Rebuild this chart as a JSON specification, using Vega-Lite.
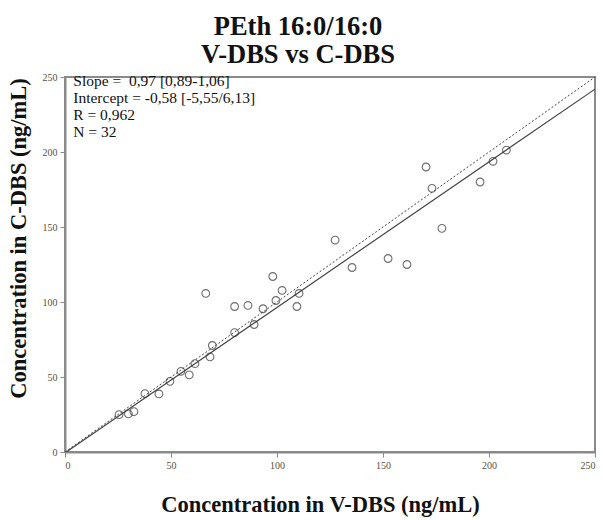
{
  "$schema": "https://vega.github.io/schema/vega-lite/v6.json",
  "autosize": {"type": "none"},
  "width": 530,
  "height": 375,
  "padding": {"left": 65, "top": 77, "right": 8, "bottom": 68},
  "background": "white",
  "config": {
    "view": {"stroke": "#8a8a8a", "strokeWidth": 2},
    "font": "Liberation Serif"
  },
  "title": {
    "text": ["PEth 16:0/16:0", "V-DBS vs C-DBS"],
    "font": "Liberation Serif",
    "fontSize": 26.5,
    "fontWeight": "bold",
    "color": "#111",
    "anchor": "middle",
    "frame": "group",
    "lineHeight": 28,
    "offset": 4,
    "dx": -32
  },
  "datasets": {
    "points": [
      {"v": 25.5, "c": 24.9}, {"v": 29.9, "c": 25.4}, {"v": 32.5, "c": 26.9},
      {"v": 37.7, "c": 38.9}, {"v": 44.3, "c": 38.7}, {"v": 49.5, "c": 47.1},
      {"v": 54.7, "c": 53.8}, {"v": 58.6, "c": 51.4}, {"v": 61.3, "c": 58.9},
      {"v": 68.4, "c": 63.4}, {"v": 69.5, "c": 71.0}, {"v": 66.4, "c": 105.7},
      {"v": 80.0, "c": 79.6}, {"v": 80.0, "c": 97.0}, {"v": 86.3, "c": 97.7},
      {"v": 89.2, "c": 85.0}, {"v": 93.4, "c": 95.5}, {"v": 98.0, "c": 117.0},
      {"v": 99.5, "c": 101.0}, {"v": 102.4, "c": 107.7}, {"v": 110.4, "c": 105.7},
      {"v": 109.4, "c": 97.0}, {"v": 127.4, "c": 141.3}, {"v": 135.4, "c": 123.0},
      {"v": 152.4, "c": 129.0}, {"v": 161.3, "c": 125.0}, {"v": 170.3, "c": 190.0},
      {"v": 173.1, "c": 175.8}, {"v": 177.8, "c": 149.1}, {"v": 195.8, "c": 180.0},
      {"v": 201.9, "c": 193.8}, {"v": 208.2, "c": 201.3}
    ],
    "fit": [
      {"v": 0, "c": -0.58}, {"v": 250, "c": 241.92}
    ],
    "identity": [
      {"v": 0, "c": 0}, {"v": 250, "c": 250}
    ],
    "stats": [
      {"v": 3.9, "c": 244.1, "label": "Slope = \u00a00,97 [0,89-1,06]"},
      {"v": 3.9, "c": 233.0, "label": "Intercept = -0,58 [-5,55/6,13]"},
      {"v": 3.9, "c": 221.6, "label": "R = 0,962"},
      {"v": 3.9, "c": 210.3, "label": "N = 32"}
    ]
  },
  "encoding": {
    "x": {
      "field": "v", "type": "quantitative",
      "scale": {"domain": [0, 250], "nice": false, "zero": false},
      "axis": {
        "title": "Concentration in V-DBS (ng/mL)",
        "values": [0, 50, 100, 150, 200, 250],
        "grid": false,
        "domainColor": "#8a8a8a", "domainWidth": 2,
        "tickColor": "#8a8a8a", "tickSize": 5, "tickWidth": 1,
        "labelFont": "Liberation Serif", "labelFontSize": 10, "labelColor": "#5a5040",
        "labelPadding": 3,
        "titleFont": "Liberation Serif", "titleFontSize": 22.5, "titleFontWeight": "bold",
        "titleColor": "#111", "titlePadding": 23, "titleX": 255
      }
    },
    "y": {
      "field": "c", "type": "quantitative",
      "scale": {"domain": [0, 250], "nice": false, "zero": false},
      "axis": {
        "title": "Concentration in C-DBS (ng/mL)",
        "values": [0, 50, 100, 150, 200, 250],
        "grid": false,
        "domainColor": "#8a8a8a", "domainWidth": 2,
        "tickColor": "#8a8a8a", "tickSize": 5, "tickWidth": 1,
        "labelFont": "Liberation Serif", "labelFontSize": 10, "labelColor": "#5a5040",
        "labelPadding": 3,
        "titleFont": "Liberation Serif", "titleFontSize": 22.5, "titleFontWeight": "bold",
        "titleColor": "#111", "titlePadding": 12, "titleY": 161
      }
    }
  },
  "layer": [
    {
      "data": {"name": "identity"},
      "mark": {"type": "line", "color": "#444", "strokeWidth": 1, "strokeDash": [2, 2], "clip": true}
    },
    {
      "data": {"name": "fit"},
      "mark": {"type": "line", "color": "#444", "strokeWidth": 1.2, "clip": true}
    },
    {
      "data": {"name": "points"},
      "mark": {"type": "point", "shape": "circle", "filled": false, "stroke": "#333", "strokeWidth": 1.1, "size": 60}
    },
    {
      "data": {"name": "stats"},
      "mark": {"type": "text", "align": "left", "baseline": "alphabetic", "font": "Liberation Serif", "fontSize": 15.5, "color": "#111"},
      "encoding": {"text": {"field": "label"}}
    }
  ]
}
